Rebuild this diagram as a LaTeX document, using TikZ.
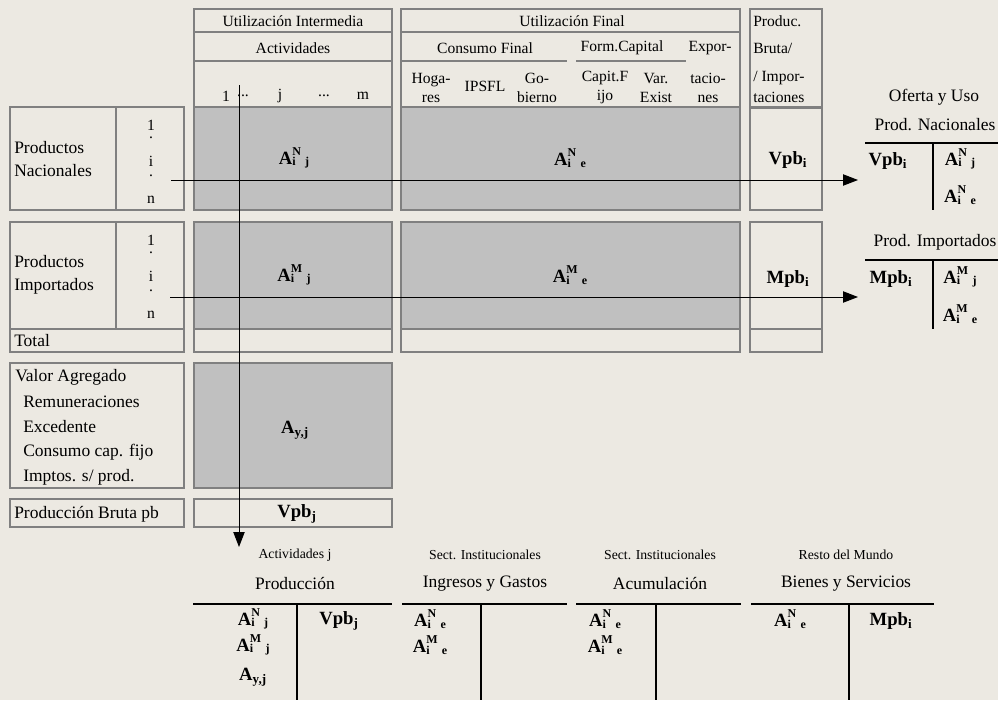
\documentclass[tikz,border=0pt]{standalone}
\usepackage{fontspec}
\setmainfont{Liberation Serif}
\usetikzlibrary{arrows.meta, positioning}

\definecolor{paper}{RGB}{236,233,226}
\definecolor{cellgray}{RGB}{192,192,192}
\definecolor{linegray}{RGB}{128,128,128}

% bold coefficient with stacked indices
\newcommand{\ixs}[1]{{\fontsize{9}{9}\selectfont #1}}
\newcommand{\Acoef}[2]{A\rlap{\raisebox{-1pt}{\ixs{i}}}\raisebox{6.8pt}{\ixs{#1}}\hspace{3.2pt}\raisebox{-1pt}{\ixs{#2}}}

\begin{document}
\begin{tikzpicture}[
                x=0.75pt, y=-0.75pt,
                cell/.style={draw=linegray, line width=1.5pt, inner sep=0pt},
                filled/.style={cell, fill=cellgray},
                wh/.style 2 args={minimum width=#1*0.75pt, minimum height=#2*0.75pt},
                rule/.style={draw=linegray, line width=1.5pt},
                hdr/.style={font=\fontsize{11.7}{14.25}\selectfont, inner sep=0pt},
                lab/.style={font=\fontsize{13.1}{17}\selectfont, inner sep=0pt, align=left},
                smalltxt/.style={font=\fontsize{10.3}{12}\selectfont, inner sep=0pt},
                sym/.style={font=\fontsize{14}{16}\selectfont\bfseries, inner sep=0pt},
                tbar/.style={line width=1.5pt},
                tpost/.style={line width=1.1pt},
                flow/.style={-{Triangle[length=11.25pt, width=8.5pt]}, line width=0.75pt}
            ]

            \useasboundingbox (0,0) rectangle (998,700);
            \fill[paper] (0,0) rectangle (998,700);

            % Header boxes
            \node[cell, wh={198}{23}] (hInt-1) at (293,20.5) {};
            \node[cell, wh={198}{29}] (hInt-2) at (293,46.5) {};
            \node[cell, wh={198}{47}] (hInt-3) at (293,84.5) {};
            \node[cell, wh={339}{99}] (hFin) at (570.5,58.5) {};
            \node[cell, wh={339}{23}] (hFin-top) at (570.5,20.5) {};
            \node[cell, wh={72}{99}] (hProd) at (786,58.5) {};
            \draw[rule] (401,61) -- (567,61);
            \draw[rule] (576,61) -- (686,61);

            % Header texts
            \node[hdr] (int-title) at (293,21) {Utilización Intermedia};
            \node[hdr] (int-act) at (293,48) {Actividades};
            \foreach \t/\x [count=\k] in {1/226, .{}.{}./243, j/280, .{}.{}./324, m/363}
            \node[hdr] (act-\k) at (\x,96) {\t};

            \node[hdr] (fin-title) at (572,21) {Utilización Final};
            \node[hdr] (fin-cons) at (485,48) {Consumo Final};
            \node[hdr] (fin-form) at (622,48) {Form.Capital};
            \node[hdr] (fin-exp) at (710,48) {Expor-};
            \foreach \t/\x [count=\k] in {Hoga-\\res/431, Go-\\bierno/537, Capit.F\\ijo/605, Var.\\Exist/656, tacio-\\nes/708}
            \node[hdr, align=center] (fin-sub-\k) at (\x,87.5) {\t};
            \node[hdr] (fin-ipsfl) at (485,86) {IPSFL};

            \foreach \t/\y [count=\k] in {Produc./21, {Bruta/}/48, {/ Impor-}/78, taciones/97}
            \node[hdr, anchor=west] (prod-hdr-\k) at (753,\y) {\t};

            % Product rows
            \foreach \r/\yc/\h in {nac/158.5/103, imp/275.5/107} {
                \node[cell, wh={106}{\h}] (lab-\r) at (63,\yc) {};
                \node[cell, wh={68}{\h}] (idx-\r) at (150,\yc) {};
                \node[filled, wh={198}{\h}] (int-\r) at (293,\yc) {};
                \node[filled, wh={339}{\h}] (fin-\r) at (570.5,\yc) {};
                \node[cell, wh={72}{\h}] (prod-\r) at (786,\yc) {};
            }
            \foreach \r/\top in {nac/107, imp/222}
            \foreach \t/\dy [count=\k] in {1/18, ./31, i/54, ./69, n/93}
            \node[hdr] (\r-i-\k) at (151,{\top+\dy}) {\t};

            \node[lab, anchor=west] (nac-txt) at (14,159) {Productos\\Nacionales};
            \node[lab, anchor=west] (imp-txt) at (14,275) {Productos\\Importados};

            \node[sym] (nac-int) at (294,158) {\Acoef{N}{j}};
            \node[sym] (nac-fin) at (570,158) {\Acoef{N}{e}};
            \node[sym] (nac-prod) at (788,160) {Vpb\textsubscript{i}};
            \node[sym] (imp-int) at (294,275) {\Acoef{M}{j}};
            \node[sym] (imp-fin) at (570,275) {\Acoef{M}{e}};
            \node[sym] (imp-prod) at (788,279) {Mpb\textsubscript{i}};

            % Total row
            \node[cell, wh={174}{23}] (tot-lab) at (97,340.5) {};
            \node[cell, wh={198}{23}] (tot-int) at (293,340.5) {};
            \node[cell, wh={339}{23}] (tot-fin) at (570.5,340.5) {};
            \node[cell, wh={72}{23}] (tot-prod) at (786,340.5) {};
            \node[lab, anchor=west] (tot-txt) at (14,340.5) {Total};

            % Value added and gross output
            \node[cell, wh={174}{125}] (va-lab) at (97,425.5) {};
            \node[filled, wh={198}{125}] (va-int) at (293,425.5) {};
            \node[cell, wh={174}{28}] (pb-lab) at (97,513) {};
            \node[cell, wh={198}{28}] (pb-int) at (293,513) {};

            \node[lab, anchor=west] (va-txt) at (15,377) {Valor Agregado};
            \foreach \t/\y [count=\k] in {Remuneraciones/402, Excedente/427, Consumo cap. fijo/452, {Imptos. s/ prod.}/477}
            \node[lab, anchor=west] (va-txt-\k) at (23,\y) {\t};
            \node[sym] (va-coef) at (295,430) {A\textsubscript{y,j}};
            \node[lab, anchor=west] (pb-txt) at (14,514) {Producción Bruta pb};
            \node[sym] (pb-coef) at (297,514) {Vpb\textsubscript{j}};

            % Supply and use accounts (right)
            \node[lab] (ofer-title) at (934,97) {Oferta y Uso};
            \node[lab] (nac-title) at (935,125) {Prod. Nacionales};
            \draw[tbar] (865,143) -- (998,143);
            \draw[tpost] (933,143) -- (933,210);
            \node[sym] (nac-vpb) at (888,161) {Vpb\textsubscript{i}};
            \node[sym] (nac-aj) at (960,159) {\Acoef{N}{j}};
            \node[sym] (nac-ae) at (960,195) {\Acoef{N}{e}};

            \node[lab] (imp-title) at (935,242) {Prod. Importados};
            \draw[tbar] (865,260) -- (998,260);
            \draw[tpost] (933,260) -- (933,329);
            \node[sym] (imp-mpb) at (891,279) {Mpb\textsubscript{i}};
            \node[sym] (imp-aj) at (960,277) {\Acoef{M}{j}};
            \node[sym] (imp-ae) at (960,314) {\Acoef{M}{e}};

            % Bottom accounts
            \foreach \k/\xa/\xb/\xv/\xc/\sub/\main in {1/193/392/297/295/Actividades j/Producción,
                    2/402/567/481/485/Sect. Institucionales/Ingresos y Gastos,
                    3/576/741/656/660/Sect. Institucionales/Acumulación,
                    4/751/934/849/846/Resto del Mundo/Bienes y Servicios} {
                \node[smalltxt] (acc-sub-\k) at (\xc,555) {\sub};
                \node[lab] (acc-main-\k) at (\xc,584) {\main};
                \draw[tbar] (\xa,604) -- (\xb,604);
                \draw[tpost] (\xv,604) -- (\xv,700);
            }
            \node[sym] (acc1-a) at (253,619) {\Acoef{N}{j}};
            \node[sym] (acc1-b) at (253,645) {\Acoef{M}{j}};
            \node[sym] (acc1-c) at (253,677) {A\textsubscript{y,j}};
            \node[sym] (acc1-d) at (339,621) {Vpb\textsubscript{j}};
            \node[sym] (acc2-a) at (430,619) {\Acoef{N}{e}};
            \node[sym] (acc2-b) at (430,645) {\Acoef{M}{e}};
            \node[sym] (acc3-a) at (605,619) {\Acoef{N}{e}};
            \node[sym] (acc3-b) at (605,645) {\Acoef{M}{e}};
            \node[sym] (acc4-a) at (790,619) {\Acoef{N}{e}};
            \node[sym] (acc4-b) at (891,621) {Mpb\textsubscript{i}};

            % Flows
            \coordinate (nac-out) at (171,180);
            \coordinate (nac-in) at (858,180);
            \coordinate (imp-out) at (170,297);
            \coordinate (imp-in) at (858,297);
            \coordinate (act-out) at (239,85);
            \coordinate (act-in) at (239,547);
            \draw[flow] (nac-out) -- (nac-in);
            \draw[flow] (imp-out) -- (imp-in);
            \draw[flow] (act-out) -- (act-in);

        \end{tikzpicture}
\end{document}
